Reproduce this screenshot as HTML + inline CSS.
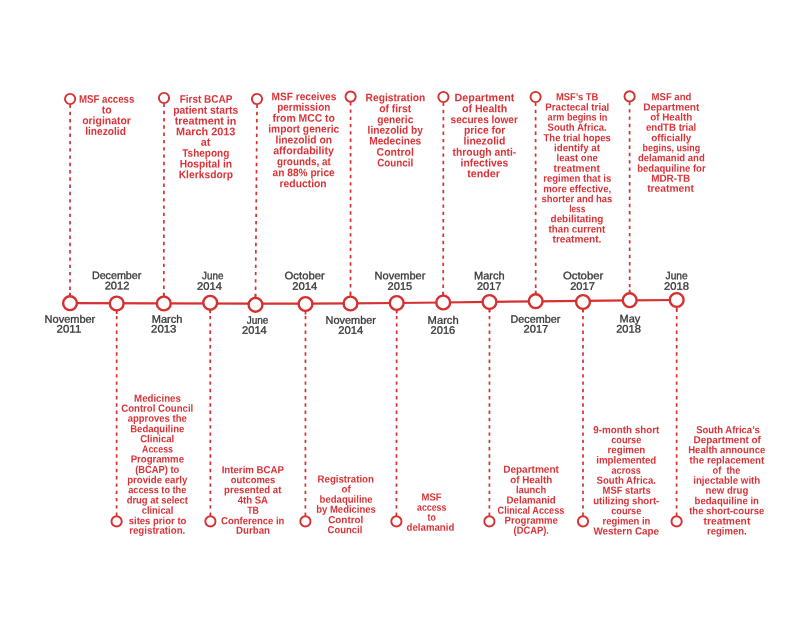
<!DOCTYPE html>
<html lang="en"><head><meta charset="utf-8"><title>Timeline</title>
<style>html,body{margin:0;padding:0;background:#fff}svg{display:block}text{text-rendering:geometricPrecision}.r{font-family:"Liberation Sans",sans-serif;font-weight:700;fill:#da3337}.d{font-family:"Liberation Sans",sans-serif;font-weight:400;fill:#373737;stroke:#373737;stroke-width:.32px;font-size:10.8px}</style></head><body>
<svg width="800" height="618" viewBox="0 0 800 618">
<rect width="800" height="618" fill="#fff"/>
<g stroke="#d63031" stroke-width="1.7" fill="none" stroke-dasharray="3.4 3.88">
<line x1="70.1" y1="104.5" x2="70.0" y2="296.2"/>
<line x1="164.0" y1="103.5" x2="163.8" y2="296.5"/>
<line x1="257.0" y1="104.5" x2="255.5" y2="297.8"/>
<line x1="350.6" y1="102.1" x2="350.5" y2="296.5"/>
<line x1="443.4" y1="102.5" x2="443.2" y2="295.5"/>
<line x1="535.6" y1="102.5" x2="535.7" y2="294.2"/>
<line x1="629.6" y1="101.9" x2="629.7" y2="293.2"/>
<line x1="116.6" y1="515.9" x2="116.7" y2="310.5"/>
<line x1="210.4" y1="515.9" x2="210.2" y2="309.8"/>
<line x1="305.4" y1="515.9" x2="305.5" y2="311.0"/>
<line x1="396.4" y1="515.9" x2="396.7" y2="310.0"/>
<line x1="489.4" y1="515.9" x2="489.5" y2="309.0"/>
<line x1="583.0" y1="515.9" x2="583.0" y2="309.0"/>
<line x1="676.6" y1="515.9" x2="676.7" y2="307.0"/>
</g>
<g stroke="#d63031" stroke-width="1.7" fill="none">
<line x1="116.7" y1="310.5" x2="116.7" y2="314.0"/>
<line x1="210.2" y1="309.8" x2="210.2" y2="313.3"/>
<line x1="305.5" y1="311.0" x2="305.5" y2="314.5"/>
<line x1="396.7" y1="310.0" x2="396.7" y2="313.5"/>
<line x1="489.5" y1="309.0" x2="489.5" y2="312.5"/>
<line x1="583.0" y1="309.0" x2="583.0" y2="312.5"/>
<line x1="676.7" y1="307.0" x2="676.7" y2="310.5"/>
<line x1="70.0" y1="292.7" x2="70.0" y2="296.2"/>
<line x1="163.8" y1="293.0" x2="163.8" y2="296.5"/>
<line x1="255.5" y1="294.3" x2="255.5" y2="297.8"/>
<line x1="350.5" y1="293.0" x2="350.5" y2="296.5"/>
<line x1="443.2" y1="292.0" x2="443.2" y2="295.5"/>
<line x1="535.7" y1="290.7" x2="535.7" y2="294.2"/>
<line x1="629.7" y1="289.7" x2="629.7" y2="293.2"/>
</g>
<polyline points="70.0,303.2 163.8,303.3 255.5,303.6 305.5,303.7 350.5,303.4 396.7,303.0 443.2,302.5 489.5,301.9 535.7,301.3 583.0,300.9 629.7,300.4 676.7,300.0" fill="none" stroke="#d63031" stroke-width="2.2"/>
<g fill="#fff" stroke="#d63031" stroke-width="2.4">
<circle cx="70.0" cy="303.2" r="6.9"/>
<circle cx="116.7" cy="303.5" r="6.9"/>
<circle cx="163.8" cy="303.5" r="6.9"/>
<circle cx="210.2" cy="302.8" r="6.9"/>
<circle cx="255.5" cy="304.8" r="6.9"/>
<circle cx="305.5" cy="304.0" r="6.9"/>
<circle cx="350.5" cy="303.5" r="6.9"/>
<circle cx="396.7" cy="303.0" r="6.9"/>
<circle cx="443.2" cy="302.5" r="6.9"/>
<circle cx="489.5" cy="302.0" r="6.9"/>
<circle cx="535.7" cy="301.2" r="6.9"/>
<circle cx="583.0" cy="302.0" r="6.9"/>
<circle cx="629.7" cy="300.2" r="6.9"/>
<circle cx="676.7" cy="300.0" r="6.9"/>
</g>
<g fill="#fff" stroke="#d63031" stroke-width="1.9">
<circle cx="70.1" cy="99.0" r="5.1"/>
<circle cx="164.0" cy="98.0" r="5.1"/>
<circle cx="257.0" cy="99.0" r="5.1"/>
<circle cx="350.6" cy="96.6" r="5.1"/>
<circle cx="443.4" cy="97.0" r="5.1"/>
<circle cx="535.6" cy="97.0" r="5.1"/>
<circle cx="629.6" cy="96.4" r="5.1"/>
<circle cx="116.6" cy="521.4" r="5.1"/>
<circle cx="210.4" cy="521.4" r="5.1"/>
<circle cx="305.4" cy="521.4" r="5.1"/>
<circle cx="396.4" cy="521.4" r="5.1"/>
<circle cx="489.4" cy="521.4" r="5.1"/>
<circle cx="583.0" cy="521.4" r="5.1"/>
<circle cx="676.6" cy="521.4" r="5.1"/>
</g>
<g class="r">
<text x="78.9" y="102.7" font-size="11.0" textLength="55.5" lengthAdjust="spacingAndGlyphs" transform="rotate(.08 106.6 102.5)">MSF access</text>
<text x="101.7" y="113.4" font-size="11.0" textLength="9.9" lengthAdjust="spacingAndGlyphs" transform="rotate(.08 106.6 113.2)">to</text>
<text x="82.2" y="124.2" font-size="11.0" textLength="48.7" lengthAdjust="spacingAndGlyphs" transform="rotate(.08 106.5 124.0)">originator</text>
<text x="85.2" y="134.9" font-size="11.0" textLength="40.7" lengthAdjust="spacingAndGlyphs" transform="rotate(.08 105.5 134.7)">linezolid</text>
<text x="179.7" y="102.8" font-size="11.0" textLength="52.7" lengthAdjust="spacingAndGlyphs" transform="rotate(.08 206.0 102.6)">First BCAP</text>
<text x="173.2" y="113.8" font-size="11.0" textLength="65.1" lengthAdjust="spacingAndGlyphs" transform="rotate(.08 205.8 113.6)">patient starts</text>
<text x="174.7" y="124.6" font-size="11.0" textLength="61.7" lengthAdjust="spacingAndGlyphs" transform="rotate(.08 205.5 124.4)">treatment in</text>
<text x="176.1" y="135.2" font-size="11.0" textLength="59.3" lengthAdjust="spacingAndGlyphs" transform="rotate(.08 205.7 135.0)">March 2013</text>
<text x="200.7" y="145.8" font-size="11.0" textLength="9.7" lengthAdjust="spacingAndGlyphs" transform="rotate(.08 205.5 145.6)">at</text>
<text x="182.2" y="156.8" font-size="11.0" textLength="47.1" lengthAdjust="spacingAndGlyphs" transform="rotate(.08 205.8 156.6)">Tshepong</text>
<text x="179.7" y="167.6" font-size="11.0" textLength="52.3" lengthAdjust="spacingAndGlyphs" transform="rotate(.08 205.8 167.4)">Hospital in</text>
<text x="178.7" y="178.2" font-size="11.0" textLength="54.3" lengthAdjust="spacingAndGlyphs" transform="rotate(.08 205.8 178.0)">Klerksdorp</text>
<text x="271.6" y="100.2" font-size="11.0" textLength="64.7" lengthAdjust="spacingAndGlyphs" transform="rotate(.08 304.0 100.0)">MSF receives</text>
<text x="277.2" y="110.8" font-size="11.0" textLength="53.1" lengthAdjust="spacingAndGlyphs" transform="rotate(.08 303.8 110.6)">permission</text>
<text x="272.6" y="121.8" font-size="11.0" textLength="62.3" lengthAdjust="spacingAndGlyphs" transform="rotate(.08 303.8 121.6)">from MCC to</text>
<text x="268.2" y="132.6" font-size="11.0" textLength="71.1" lengthAdjust="spacingAndGlyphs" transform="rotate(.08 303.8 132.4)">import generic</text>
<text x="275.6" y="143.6" font-size="11.0" textLength="56.3" lengthAdjust="spacingAndGlyphs" transform="rotate(.08 303.8 143.4)">linezolid on</text>
<text x="273.2" y="154.2" font-size="11.0" textLength="60.7" lengthAdjust="spacingAndGlyphs" transform="rotate(.08 303.6 154.0)">affordability</text>
<text x="277.0" y="165.2" font-size="11.0" textLength="53.7" lengthAdjust="spacingAndGlyphs" transform="rotate(.08 303.9 165.0)">grounds, at</text>
<text x="272.6" y="176.2" font-size="11.0" textLength="62.1" lengthAdjust="spacingAndGlyphs" transform="rotate(.08 303.7 176.0)">an 88% price</text>
<text x="279.6" y="187.2" font-size="11.0" textLength="47.1" lengthAdjust="spacingAndGlyphs" transform="rotate(.08 303.2 187.0)">reduction</text>
<text x="365.6" y="101.2" font-size="11.0" textLength="59.7" lengthAdjust="spacingAndGlyphs" transform="rotate(.08 395.5 101.0)">Registration</text>
<text x="379.2" y="112.2" font-size="11.0" textLength="32.1" lengthAdjust="spacingAndGlyphs" transform="rotate(.08 395.3 112.0)">of first</text>
<text x="377.2" y="123.2" font-size="11.0" textLength="36.1" lengthAdjust="spacingAndGlyphs" transform="rotate(.08 395.3 123.0)">generic</text>
<text x="367.6" y="133.8" font-size="11.0" textLength="55.3" lengthAdjust="spacingAndGlyphs" transform="rotate(.08 395.3 133.6)">linezolid by</text>
<text x="369.2" y="144.6" font-size="11.0" textLength="52.1" lengthAdjust="spacingAndGlyphs" transform="rotate(.08 395.3 144.4)">Medecines</text>
<text x="376.6" y="155.8" font-size="11.0" textLength="37.3" lengthAdjust="spacingAndGlyphs" transform="rotate(.08 395.3 155.6)">Control</text>
<text x="377.2" y="166.6" font-size="11.0" textLength="36.1" lengthAdjust="spacingAndGlyphs" transform="rotate(.08 395.3 166.4)">Council</text>
<text x="454.6" y="101.2" font-size="11.0" textLength="59.7" lengthAdjust="spacingAndGlyphs" transform="rotate(.08 484.5 101.0)">Department</text>
<text x="462.0" y="112.2" font-size="11.0" textLength="45.3" lengthAdjust="spacingAndGlyphs" transform="rotate(.08 484.7 112.0)">of Health</text>
<text x="450.6" y="123.2" font-size="11.0" textLength="67.3" lengthAdjust="spacingAndGlyphs" transform="rotate(.08 484.3 123.0)">secures lower</text>
<text x="464.0" y="133.8" font-size="11.0" textLength="41.3" lengthAdjust="spacingAndGlyphs" transform="rotate(.08 484.7 133.6)">price for</text>
<text x="463.6" y="144.6" font-size="11.0" textLength="41.7" lengthAdjust="spacingAndGlyphs" transform="rotate(.08 484.5 144.4)">linezolid</text>
<text x="452.6" y="155.8" font-size="11.0" textLength="63.7" lengthAdjust="spacingAndGlyphs" transform="rotate(.08 484.5 155.6)">through anti-</text>
<text x="460.6" y="166.6" font-size="11.0" textLength="47.7" lengthAdjust="spacingAndGlyphs" transform="rotate(.08 484.5 166.4)">infectives</text>
<text x="467.2" y="177.2" font-size="11.0" textLength="32.7" lengthAdjust="spacingAndGlyphs" transform="rotate(.08 483.6 177.0)">tender</text>
<text x="556.0" y="100.2" font-size="10.3" textLength="42.3" lengthAdjust="spacingAndGlyphs" transform="rotate(.08 577.2 100.0)">MSF’s TB</text>
<text x="545.2" y="110.6" font-size="10.3" textLength="64.1" lengthAdjust="spacingAndGlyphs" transform="rotate(.08 577.3 110.4)">Practecal trial</text>
<text x="547.6" y="120.6" font-size="10.3" textLength="59.7" lengthAdjust="spacingAndGlyphs" transform="rotate(.08 577.5 120.4)">arm begins in</text>
<text x="547.6" y="130.8" font-size="10.3" textLength="59.1" lengthAdjust="spacingAndGlyphs" transform="rotate(.08 577.2 130.6)">South Africa.</text>
<text x="543.6" y="141.2" font-size="10.3" textLength="67.3" lengthAdjust="spacingAndGlyphs" transform="rotate(.08 577.3 141.0)">The trial hopes</text>
<text x="554.0" y="151.2" font-size="10.3" textLength="45.9" lengthAdjust="spacingAndGlyphs" transform="rotate(.08 577.0 151.0)">identify at</text>
<text x="556.6" y="161.2" font-size="10.3" textLength="41.1" lengthAdjust="spacingAndGlyphs" transform="rotate(.08 577.2 161.0)">least one</text>
<text x="553.6" y="171.7" font-size="10.3" textLength="46.3" lengthAdjust="spacingAndGlyphs" transform="rotate(.08 576.8 171.5)">treatment</text>
<text x="543.2" y="181.8" font-size="10.3" textLength="68.1" lengthAdjust="spacingAndGlyphs" transform="rotate(.08 577.3 181.6)">regimen that is</text>
<text x="543.2" y="192.2" font-size="10.3" textLength="68.1" lengthAdjust="spacingAndGlyphs" transform="rotate(.08 577.3 192.0)">more effective,</text>
<text x="541.6" y="202.2" font-size="10.3" textLength="70.7" lengthAdjust="spacingAndGlyphs" transform="rotate(.08 577.0 202.0)">shorter and has</text>
<text x="569.2" y="212.2" font-size="10.3" textLength="16.1" lengthAdjust="spacingAndGlyphs" transform="rotate(.08 577.3 212.0)">less</text>
<text x="550.6" y="222.2" font-size="10.3" textLength="52.7" lengthAdjust="spacingAndGlyphs" transform="rotate(.08 577.0 222.0)">debilitating</text>
<text x="548.6" y="232.6" font-size="10.3" textLength="56.7" lengthAdjust="spacingAndGlyphs" transform="rotate(.08 577.0 232.4)">than current</text>
<text x="552.6" y="242.6" font-size="10.3" textLength="48.7" lengthAdjust="spacingAndGlyphs" transform="rotate(.08 577.0 242.4)">treatment.</text>
<text x="651.6" y="100.2" font-size="10.3" textLength="39.7" lengthAdjust="spacingAndGlyphs" transform="rotate(.08 671.5 100.0)">MSF and</text>
<text x="643.2" y="110.6" font-size="10.3" textLength="56.1" lengthAdjust="spacingAndGlyphs" transform="rotate(.08 671.3 110.4)">Department</text>
<text x="650.2" y="120.6" font-size="10.3" textLength="42.1" lengthAdjust="spacingAndGlyphs" transform="rotate(.08 671.3 120.4)">of Health</text>
<text x="646.0" y="130.8" font-size="10.3" textLength="50.3" lengthAdjust="spacingAndGlyphs" transform="rotate(.08 671.2 130.6)">endTB trial</text>
<text x="651.2" y="141.2" font-size="10.3" textLength="40.1" lengthAdjust="spacingAndGlyphs" transform="rotate(.08 671.3 141.0)">officially</text>
<text x="642.6" y="151.2" font-size="10.3" textLength="57.7" lengthAdjust="spacingAndGlyphs" transform="rotate(.08 671.5 151.0)">begins, using</text>
<text x="638.0" y="161.2" font-size="10.3" textLength="66.7" lengthAdjust="spacingAndGlyphs" transform="rotate(.08 671.4 161.0)">delamanid and</text>
<text x="637.2" y="171.8" font-size="10.3" textLength="68.5" lengthAdjust="spacingAndGlyphs" transform="rotate(.08 671.5 171.6)">bedaquiline for</text>
<text x="651.2" y="181.8" font-size="10.3" textLength="39.1" lengthAdjust="spacingAndGlyphs" transform="rotate(.08 670.8 181.6)">MDR-TB</text>
<text x="647.2" y="191.8" font-size="10.3" textLength="46.7" lengthAdjust="spacingAndGlyphs" transform="rotate(.08 670.6 191.6)">treatment</text>
<text x="134.1" y="401.8" font-size="10.3" textLength="46.7" lengthAdjust="spacingAndGlyphs" transform="rotate(.08 157.4 401.6)">Medicines</text>
<text x="121.2" y="411.8" font-size="10.3" textLength="72.1" lengthAdjust="spacingAndGlyphs" transform="rotate(.08 157.3 411.6)">Control Council</text>
<text x="127.7" y="421.8" font-size="10.3" textLength="59.1" lengthAdjust="spacingAndGlyphs" transform="rotate(.08 157.2 421.6)">approves the</text>
<text x="130.2" y="432.2" font-size="10.3" textLength="54.1" lengthAdjust="spacingAndGlyphs" transform="rotate(.08 157.3 432.0)">Bedaquiline</text>
<text x="140.2" y="442.2" font-size="10.3" textLength="34.1" lengthAdjust="spacingAndGlyphs" transform="rotate(.08 157.3 442.0)">Clinical</text>
<text x="142.1" y="452.6" font-size="10.3" textLength="30.9" lengthAdjust="spacingAndGlyphs" transform="rotate(.08 157.5 452.4)">Access</text>
<text x="130.7" y="462.6" font-size="10.3" textLength="53.3" lengthAdjust="spacingAndGlyphs" transform="rotate(.08 157.3 462.4)">Programme</text>
<text x="135.2" y="473.0" font-size="10.3" textLength="44.1" lengthAdjust="spacingAndGlyphs" transform="rotate(.08 157.3 472.8)">(BCAP) to</text>
<text x="127.2" y="483.2" font-size="10.3" textLength="60.1" lengthAdjust="spacingAndGlyphs" transform="rotate(.08 157.3 483.0)">provide early</text>
<text x="128.2" y="493.2" font-size="10.3" textLength="58.1" lengthAdjust="spacingAndGlyphs" transform="rotate(.08 157.3 493.0)">access to the</text>
<text x="126.7" y="503.6" font-size="10.3" textLength="61.3" lengthAdjust="spacingAndGlyphs" transform="rotate(.08 157.3 503.4)">drug at select</text>
<text x="141.7" y="513.8" font-size="10.3" textLength="31.7" lengthAdjust="spacingAndGlyphs" transform="rotate(.08 157.5 513.6)">clinical</text>
<text x="128.7" y="524.2" font-size="10.3" textLength="57.7" lengthAdjust="spacingAndGlyphs" transform="rotate(.08 157.5 524.0)">sites prior to</text>
<text x="129.2" y="533.8" font-size="10.3" textLength="56.1" lengthAdjust="spacingAndGlyphs" transform="rotate(.08 157.3 533.6)">registration.</text>
<text x="221.7" y="473.2" font-size="10.3" textLength="62.3" lengthAdjust="spacingAndGlyphs" transform="rotate(.08 252.8 473.0)">Interim BCAP</text>
<text x="230.7" y="483.2" font-size="10.3" textLength="44.7" lengthAdjust="spacingAndGlyphs" transform="rotate(.08 253.0 483.0)">outcomes</text>
<text x="224.1" y="493.2" font-size="10.3" textLength="57.3" lengthAdjust="spacingAndGlyphs" transform="rotate(.08 252.7 493.0)">presented at</text>
<text x="237.7" y="503.6" font-size="10.3" textLength="30.3" lengthAdjust="spacingAndGlyphs" transform="rotate(.08 252.8 503.4)">4th SA</text>
<text x="247.2" y="513.8" font-size="10.3" textLength="11.7" lengthAdjust="spacingAndGlyphs" transform="rotate(.08 253.1 513.6)">TB</text>
<text x="221.1" y="524.2" font-size="10.3" textLength="63.3" lengthAdjust="spacingAndGlyphs" transform="rotate(.08 252.7 524.0)">Conference in</text>
<text x="236.1" y="533.8" font-size="10.3" textLength="33.9" lengthAdjust="spacingAndGlyphs" transform="rotate(.08 253.0 533.6)">Durban</text>
<text x="317.6" y="482.6" font-size="10.3" textLength="56.3" lengthAdjust="spacingAndGlyphs" transform="rotate(.08 345.8 482.4)">Registration</text>
<text x="341.6" y="492.6" font-size="10.3" textLength="9.1" lengthAdjust="spacingAndGlyphs" transform="rotate(.08 346.2 492.4)">of</text>
<text x="319.6" y="502.8" font-size="10.3" textLength="53.1" lengthAdjust="spacingAndGlyphs" transform="rotate(.08 346.2 502.6)">bedaquiline</text>
<text x="316.2" y="512.8" font-size="10.3" textLength="59.7" lengthAdjust="spacingAndGlyphs" transform="rotate(.08 346.1 512.6)">by Medicines</text>
<text x="328.2" y="523.2" font-size="10.3" textLength="35.1" lengthAdjust="spacingAndGlyphs" transform="rotate(.08 345.8 523.0)">Control</text>
<text x="327.6" y="533.2" font-size="10.3" textLength="34.7" lengthAdjust="spacingAndGlyphs" transform="rotate(.08 345.0 533.0)">Council</text>
<text x="421.6" y="500.6" font-size="10.3" textLength="20.1" lengthAdjust="spacingAndGlyphs" transform="rotate(.08 431.7 500.4)">MSF</text>
<text x="417.0" y="510.8" font-size="10.3" textLength="29.3" lengthAdjust="spacingAndGlyphs" transform="rotate(.08 431.7 510.6)">access</text>
<text x="427.6" y="520.8" font-size="10.3" textLength="8.3" lengthAdjust="spacingAndGlyphs" transform="rotate(.08 431.8 520.6)">to</text>
<text x="406.6" y="530.8" font-size="10.3" textLength="47.7" lengthAdjust="spacingAndGlyphs" transform="rotate(.08 430.5 530.6)">delamanid</text>
<text x="503.2" y="472.8" font-size="10.3" textLength="55.7" lengthAdjust="spacingAndGlyphs" transform="rotate(.08 531.1 472.6)">Department</text>
<text x="510.2" y="483.2" font-size="10.3" textLength="42.1" lengthAdjust="spacingAndGlyphs" transform="rotate(.08 531.3 483.0)">of Health</text>
<text x="516.0" y="493.2" font-size="10.3" textLength="30.3" lengthAdjust="spacingAndGlyphs" transform="rotate(.08 531.2 493.0)">launch</text>
<text x="506.6" y="503.6" font-size="10.3" textLength="49.1" lengthAdjust="spacingAndGlyphs" transform="rotate(.08 531.2 503.4)">Delamanid</text>
<text x="497.6" y="513.8" font-size="10.3" textLength="66.7" lengthAdjust="spacingAndGlyphs" transform="rotate(.08 531.0 513.6)">Clinical Access</text>
<text x="504.6" y="523.8" font-size="10.3" textLength="53.3" lengthAdjust="spacingAndGlyphs" transform="rotate(.08 531.3 523.6)">Programme</text>
<text x="513.6" y="533.8" font-size="10.3" textLength="35.3" lengthAdjust="spacingAndGlyphs" transform="rotate(.08 531.3 533.6)">(DCAP).</text>
<text x="593.2" y="433.2" font-size="10.3" textLength="66.1" lengthAdjust="spacingAndGlyphs" transform="rotate(.08 626.3 433.0)">9-month short</text>
<text x="611.2" y="443.2" font-size="10.3" textLength="30.1" lengthAdjust="spacingAndGlyphs" transform="rotate(.08 626.3 443.0)">course</text>
<text x="607.6" y="453.2" font-size="10.3" textLength="37.7" lengthAdjust="spacingAndGlyphs" transform="rotate(.08 626.5 453.0)">regimen</text>
<text x="596.2" y="463.6" font-size="10.3" textLength="60.1" lengthAdjust="spacingAndGlyphs" transform="rotate(.08 626.3 463.4)">implemented</text>
<text x="611.6" y="473.8" font-size="10.3" textLength="29.1" lengthAdjust="spacingAndGlyphs" transform="rotate(.08 626.2 473.6)">across</text>
<text x="596.6" y="483.8" font-size="10.3" textLength="59.3" lengthAdjust="spacingAndGlyphs" transform="rotate(.08 626.3 483.6)">South Africa.</text>
<text x="602.6" y="493.8" font-size="10.3" textLength="48.1" lengthAdjust="spacingAndGlyphs" transform="rotate(.08 626.7 493.6)">MSF starts</text>
<text x="593.2" y="504.2" font-size="10.3" textLength="66.1" lengthAdjust="spacingAndGlyphs" transform="rotate(.08 626.3 504.0)">utilizing short-</text>
<text x="611.2" y="514.2" font-size="10.3" textLength="30.1" lengthAdjust="spacingAndGlyphs" transform="rotate(.08 626.3 514.0)">course</text>
<text x="602.6" y="524.6" font-size="10.3" textLength="47.7" lengthAdjust="spacingAndGlyphs" transform="rotate(.08 626.5 524.4)">regimen in</text>
<text x="593.4" y="534.6" font-size="10.3" textLength="65.7" lengthAdjust="spacingAndGlyphs" transform="rotate(.08 626.3 534.4)">Western Cape</text>
<text x="696.2" y="433.2" font-size="10.3" textLength="63.5" lengthAdjust="spacingAndGlyphs" transform="rotate(.08 728.0 433.0)">South Africa’s</text>
<text x="693.6" y="443.2" font-size="10.3" textLength="67.3" lengthAdjust="spacingAndGlyphs" transform="rotate(.08 727.3 443.0)">Department of</text>
<text x="688.2" y="453.2" font-size="10.3" textLength="77.1" lengthAdjust="spacingAndGlyphs" transform="rotate(.08 726.8 453.0)">Health announce</text>
<text x="689.6" y="463.6" font-size="10.3" textLength="74.7" lengthAdjust="spacingAndGlyphs" transform="rotate(.08 727.0 463.4)">the replacement</text>
<text x="712.6" y="473.8" font-size="10.3" textLength="27.7" lengthAdjust="spacingAndGlyphs" transform="rotate(.08 726.5 473.6)">of  the</text>
<text x="693.2" y="483.8" font-size="10.3" textLength="67.1" lengthAdjust="spacingAndGlyphs" transform="rotate(.08 726.8 483.6)">injectable with</text>
<text x="705.6" y="493.8" font-size="10.3" textLength="42.7" lengthAdjust="spacingAndGlyphs" transform="rotate(.08 727.0 493.6)">new drug</text>
<text x="694.6" y="504.2" font-size="10.3" textLength="64.3" lengthAdjust="spacingAndGlyphs" transform="rotate(.08 726.8 504.0)">bedaquiline in</text>
<text x="689.2" y="514.2" font-size="10.3" textLength="75.1" lengthAdjust="spacingAndGlyphs" transform="rotate(.08 726.8 514.0)">the short-course</text>
<text x="703.6" y="524.6" font-size="10.3" textLength="46.7" lengthAdjust="spacingAndGlyphs" transform="rotate(.08 727.0 524.4)">treatment</text>
<text x="707.1" y="534.6" font-size="10.3" textLength="39.5" lengthAdjust="spacingAndGlyphs" transform="rotate(.08 726.9 534.4)">regimen.</text>
</g>
<g class="d">
<text x="91.9" y="279.0" textLength="49.5" lengthAdjust="spacingAndGlyphs" transform="rotate(.08 116.6 278.8)">December</text>
<text x="104.7" y="289.2" textLength="24.7" lengthAdjust="spacingAndGlyphs" transform="rotate(.08 117.0 289.0)">2012</text>
<text x="202.1" y="279.2" textLength="21.3" lengthAdjust="spacingAndGlyphs" transform="rotate(.08 212.7 279.0)">June</text>
<text x="197.1" y="289.8" textLength="24.9" lengthAdjust="spacingAndGlyphs" transform="rotate(.08 209.5 289.6)">2014</text>
<text x="284.6" y="279.2" textLength="40.1" lengthAdjust="spacingAndGlyphs" transform="rotate(.08 304.7 279.0)">October</text>
<text x="292.2" y="289.8" textLength="25.1" lengthAdjust="spacingAndGlyphs" transform="rotate(.08 304.8 289.6)">2014</text>
<text x="374.6" y="279.2" textLength="50.7" lengthAdjust="spacingAndGlyphs" transform="rotate(.08 400.0 279.0)">November</text>
<text x="387.6" y="289.8" textLength="24.7" lengthAdjust="spacingAndGlyphs" transform="rotate(.08 400.0 289.6)">2015</text>
<text x="474.0" y="279.2" textLength="30.7" lengthAdjust="spacingAndGlyphs" transform="rotate(.08 489.4 279.0)">March</text>
<text x="477.0" y="289.8" textLength="24.3" lengthAdjust="spacingAndGlyphs" transform="rotate(.08 489.2 289.6)">2017</text>
<text x="563.0" y="279.2" textLength="40.3" lengthAdjust="spacingAndGlyphs" transform="rotate(.08 583.2 279.0)">October</text>
<text x="570.2" y="289.8" textLength="24.7" lengthAdjust="spacingAndGlyphs" transform="rotate(.08 582.6 289.6)">2017</text>
<text x="665.6" y="279.2" textLength="22.1" lengthAdjust="spacingAndGlyphs" transform="rotate(.08 676.7 279.0)">June</text>
<text x="664.0" y="289.8" textLength="24.9" lengthAdjust="spacingAndGlyphs" transform="rotate(.08 676.5 289.6)">2018</text>
<text x="44.6" y="322.8" textLength="50.7" lengthAdjust="spacingAndGlyphs" transform="rotate(.08 70.0 322.6)">November</text>
<text x="56.6" y="332.6" textLength="24.7" lengthAdjust="spacingAndGlyphs" transform="rotate(.08 69.0 332.4)">2011</text>
<text x="151.7" y="322.8" textLength="30.7" lengthAdjust="spacingAndGlyphs" transform="rotate(.08 167.0 322.6)">March</text>
<text x="151.1" y="332.6" textLength="25.3" lengthAdjust="spacingAndGlyphs" transform="rotate(.08 163.7 332.4)">2013</text>
<text x="246.7" y="323.8" textLength="21.7" lengthAdjust="spacingAndGlyphs" transform="rotate(.08 257.5 323.6)">June</text>
<text x="242.1" y="333.8" textLength="24.7" lengthAdjust="spacingAndGlyphs" transform="rotate(.08 254.4 333.6)">2014</text>
<text x="325.6" y="323.8" textLength="50.3" lengthAdjust="spacingAndGlyphs" transform="rotate(.08 350.8 323.6)">November</text>
<text x="338.2" y="333.8" textLength="25.1" lengthAdjust="spacingAndGlyphs" transform="rotate(.08 350.8 333.6)">2014</text>
<text x="427.6" y="323.8" textLength="31.1" lengthAdjust="spacingAndGlyphs" transform="rotate(.08 443.2 323.6)">March</text>
<text x="430.6" y="333.8" textLength="24.7" lengthAdjust="spacingAndGlyphs" transform="rotate(.08 443.0 333.6)">2016</text>
<text x="510.6" y="322.8" textLength="49.7" lengthAdjust="spacingAndGlyphs" transform="rotate(.08 535.5 322.6)">December</text>
<text x="523.6" y="332.6" textLength="24.7" lengthAdjust="spacingAndGlyphs" transform="rotate(.08 536.0 332.4)">2017</text>
<text x="619.6" y="322.2" textLength="20.7" lengthAdjust="spacingAndGlyphs" transform="rotate(.08 630.0 322.0)">May</text>
<text x="616.2" y="332.6" textLength="24.7" lengthAdjust="spacingAndGlyphs" transform="rotate(.08 628.6 332.4)">2018</text>
</g>
</svg></body></html>
